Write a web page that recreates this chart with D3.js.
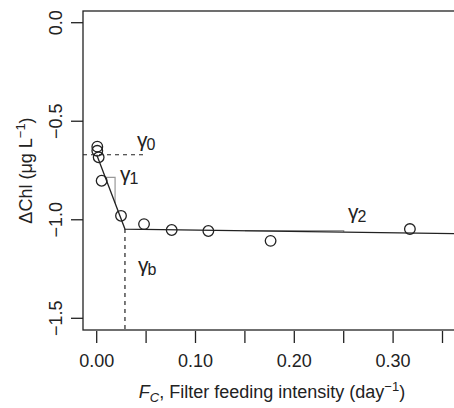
<!DOCTYPE html>
<html>
<head>
<meta charset="utf-8">
<script src="https://cdn.jsdelivr.net/npm/d3@7"></script>
<style>
  body { margin: 0; background: #fff; }
  text { font-family: "Liberation Sans", Arial, sans-serif; fill: #222; }
</style>
</head>
<body>
<svg width="454" height="408"></svg>
<script>
// observations (filter feeding intensity, change in chlorophyll)
const fc = [0.0006, 0.0006, 0.002, 0.005, 0.0246, 0.0479, 0.0759, 0.113, 0.176, 0.317];
const dchl = [-0.629, -0.650, -0.683, -0.802, -0.980, -1.022, -1.052, -1.057, -1.107, -1.047];

// segmented fit
const gamma0 = -0.67;
const breakX = 0.0286;
const breakY = -1.047;
const gamma2 = -0.069;
const fitEnd = 0.37;

const xTicks = [0, 0.05, 0.1, 0.15, 0.2, 0.25, 0.3, 0.35];
const xLabels = [0, 0.1, 0.2, 0.3];
const yTicks = [0, -0.5, -1, -1.5];

const svg = d3.select("svg");
const box = { left: 83, top: 11, right: 461, bottom: 330 };

const x = d3.scaleLinear().domain([0, 0.35]).range([96.7, 442.5]);
const y = d3.scaleLinear().domain([0, -1.5]).range([22.7, 318.3]);

const fit = v => v <= breakX
  ? gamma0 + (breakY - gamma0) / breakX * v
  : breakY + gamma2 * (v - breakX);

// box (right side falls outside the picture)
svg.append("rect")
  .attr("x", box.left).attr("y", box.top)
  .attr("width", box.right - box.left).attr("height", box.bottom - box.top)
  .attr("fill", "none").attr("stroke", "#222").attr("stroke-width", 1.3);

// x axis
const xa = svg.append("g");
xa.selectAll("line").data(xTicks).join("line")
  .attr("x1", d => x(d)).attr("x2", d => x(d))
  .attr("y1", box.bottom + 1).attr("y2", box.bottom + 13)
  .attr("stroke", "#222").attr("stroke-width", 1.3);
xa.selectAll("text").data(xLabels).join("text")
  .attr("x", d => x(d)).attr("y", 366.5)
  .attr("text-anchor", "middle").attr("font-size", 18)
  .text(d3.format(".2f"));

// y axis
const ya = svg.append("g");
ya.selectAll("line").data(yTicks).join("line")
  .attr("x1", box.left - 12).attr("x2", box.left)
  .attr("y1", d => y(d)).attr("y2", d => y(d))
  .attr("stroke", "#222").attr("stroke-width", 1.3);
ya.selectAll("text").data(yTicks).join("text")
  .attr("transform", d => `translate(62,${y(d)}) rotate(-90)`)
  .attr("text-anchor", "middle").attr("font-size", 18)
  .text(d => d3.format(".1f")(d).replace("-", "\u2212"));

// axis titles
const yt = svg.append("text")
  .attr("transform", `translate(32,${(box.top + box.bottom) / 2}) rotate(-90)`)
  .attr("text-anchor", "middle").attr("font-size", 18);
yt.append("tspan").text("\u0394Chl (\u03bcg L");
yt.append("tspan").attr("font-size", 13).attr("dy", -7).text("\u22121");
yt.append("tspan").attr("dy", 7).text(")");

const xt = svg.append("text")
  .attr("x", (box.left + box.right) / 2).attr("y", 398)
  .attr("text-anchor", "middle").attr("font-size", 18);
xt.append("tspan").attr("font-style", "italic").text("F");
xt.append("tspan").attr("font-style", "italic").attr("font-size", 13).attr("dy", 4).text("C");
xt.append("tspan").attr("dy", -4).text(", Filter feeding intensity (day");
xt.append("tspan").attr("font-size", 13).attr("dy", -7).text("\u22121");
xt.append("tspan").attr("dy", 7).text(")");

const plot = svg.append("g");

// dashed guides
plot.append("line")
  .attr("x1", box.left).attr("x2", x(0.05))
  .attr("y1", y(gamma0)).attr("y2", y(gamma0))
  .attr("stroke", "#222").attr("stroke-width", 1.2).attr("stroke-dasharray", "4,4");
plot.append("line")
  .attr("x1", x(breakX)).attr("x2", x(breakX))
  .attr("y1", y(breakY)).attr("y2", box.bottom)
  .attr("stroke", "#222").attr("stroke-width", 1.2).attr("stroke-dasharray", "4,4");

// slope triangles
const tri1 = [0.0087, 0.0186];
const tri2 = [0.15, 0.25];
[tri1, tri2].forEach(([a, b]) => {
  plot.append("path")
    .attr("d", d3.line()([[x(a), y(fit(a))], [x(b), y(fit(a))], [x(b), y(fit(b))]]))
    .attr("fill", "none").attr("stroke", "#999").attr("stroke-width", 1.2);
});

// fitted line
const fitPts = [0, breakX, fitEnd];
plot.append("path")
  .attr("d", d3.line().x(d => x(d)).y(d => y(fit(d)))(fitPts))
  .attr("fill", "none").attr("stroke", "#222").attr("stroke-width", 1.3);

// points
plot.selectAll("circle").data(fc).join("circle")
  .attr("cx", d => x(d)).attr("cy", (d, i) => y(dchl[i]))
  .attr("r", 5.3)
  .attr("fill", "none").attr("stroke", "#222").attr("stroke-width", 1.3);

// gamma labels
const gammaLabels = [
  { sub: "0", px: 137, py: 147 },
  { sub: "1", px: 120, py: 181 },
  { sub: "2", px: 348, py: 219 },
  { sub: "b", px: 138, py: 272 }
];
gammaLabels.forEach(g => {
  const t = plot.append("text").attr("x", g.px).attr("y", g.py).attr("font-size", 21);
  t.append("tspan").text("\u03b3");
  t.append("tspan").attr("font-size", 16).attr("dy", 3).attr("dx", -1).text(g.sub);
});
</script>
</body>
</html>
